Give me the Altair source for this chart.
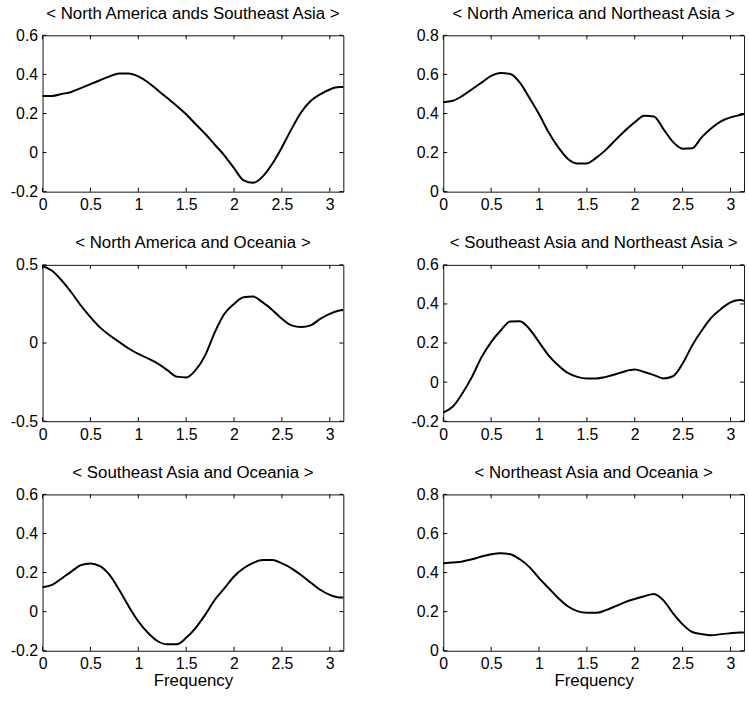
import altair as alt
import pandas as pd

# Frequency grid (radians) shared by all panels
X = [0.0, 0.1, 0.2, 0.3, 0.4, 0.5, 0.6, 0.7, 0.8, 0.9,
     1.0, 1.1, 1.2, 1.3, 1.4, 1.5, 1.6, 1.7, 1.8, 1.9,
     2.0, 2.1, 2.2, 2.3, 2.4, 2.5, 2.6, 2.7, 2.8, 2.9,
     3.0, 3.1, 3.14]

TITLES = [
    "< North America ands Southeast Asia >",
    "< North America and Northeast Asia >",
    "< North America and Oceania >",
    "< Southeast Asia and Northeast Asia >",
    "< Southeast Asia and Oceania >",
    "< Northeast Asia and Oceania >",
]

NA_SEA = [0.29, 0.29, 0.30, 0.31, 0.33, 0.35, 0.37, 0.39, 0.405, 0.405,
          0.39, 0.36, 0.32, 0.28, 0.24, 0.196, 0.145, 0.095, 0.04, -0.015,
          -0.08, -0.142, -0.155, -0.122, -0.057, 0.027, 0.12, 0.205, 0.264, 0.298,
          0.323, 0.335, 0.335]
NA_NEA = [0.458, 0.465, 0.49, 0.524, 0.558, 0.592, 0.607, 0.602, 0.558, 0.48,
          0.397, 0.304, 0.228, 0.169, 0.144, 0.144, 0.174, 0.215, 0.265, 0.313,
          0.355, 0.388, 0.385, 0.32, 0.254, 0.22, 0.222, 0.279, 0.325, 0.36,
          0.38, 0.392, 0.397]
NA_OC = [0.493, 0.462, 0.40, 0.325, 0.24, 0.166, 0.10, 0.05, 0.007, -0.035,
         -0.07, -0.098, -0.13, -0.172, -0.215, -0.22, -0.172, -0.077, 0.07, 0.187,
         0.25, 0.293, 0.297, 0.26, 0.212, 0.155, 0.113, 0.103, 0.113, 0.155,
         0.187, 0.208, 0.212]
SEA_NEA = [-0.156, -0.125, -0.057, 0.027, 0.128, 0.205, 0.264, 0.31, 0.312, 0.272,
           0.205, 0.137, 0.086, 0.047, 0.027, 0.019, 0.019, 0.027, 0.04, 0.056,
           0.064, 0.052, 0.036, 0.019, 0.03, 0.095, 0.188, 0.264, 0.33, 0.374,
           0.408, 0.42, 0.416]
SEA_OC = [0.125, 0.137, 0.17, 0.205, 0.238, 0.247, 0.233, 0.188, 0.112, 0.027,
          -0.049, -0.108, -0.15, -0.167, -0.167, -0.134, -0.083, -0.015, 0.061, 0.12,
          0.18, 0.222, 0.25, 0.264, 0.264, 0.247, 0.222, 0.188, 0.149, 0.112,
          0.086, 0.073, 0.073]
NEA_OC = [0.448, 0.452, 0.457, 0.468, 0.482, 0.494, 0.499, 0.494, 0.468, 0.428,
          0.372, 0.321, 0.27, 0.228, 0.203, 0.194, 0.194, 0.208, 0.228, 0.249,
          0.265, 0.279, 0.291, 0.258, 0.191, 0.135, 0.096, 0.085, 0.079, 0.085,
          0.09, 0.093, 0.093]

SERIES = [NA_SEA, NA_NEA, NA_OC, SEA_NEA, SEA_OC, NEA_OC]

X_TICKS = [0, 0.5, 1, 1.5, 2, 2.5, 3]
X_DOMAIN = [0, 3.14159]
Y_TICKS = [
    [-0.2, 0, 0.2, 0.4, 0.6],
    [0, 0.2, 0.4, 0.6, 0.8],
    [-0.5, 0, 0.5],
    [-0.2, 0, 0.2, 0.4, 0.6],
    [-0.2, 0, 0.2, 0.4, 0.6],
    [0, 0.2, 0.4, 0.6, 0.8],
]

W, H = 304, 158
FONT = "Liberation Sans"
TL = 4  # inward tick length


def panel(i):
    yt = Y_TICKS[i]
    bottom = i >= 4
    xscale = alt.Scale(domain=X_DOMAIN, nice=False, zero=False)
    yscale = alt.Scale(domain=[yt[0], yt[-1]], nice=False, zero=False)
    xaxis = alt.Axis(values=X_TICKS, ticks=False, tickSize=0, domain=False, grid=False,
                     labelFlush=False, labelOverlap=False, labelPadding=5,
                     labelExpr="'' + datum.value", minExtent=22, maxExtent=22,
                     title="Frequency" if bottom else "", titlePadding=0)
    yaxis = alt.Axis(values=yt, ticks=False, tickSize=0, domain=False, grid=False,
                     labelOverlap=False, labelPadding=5, labelExpr="'' + datum.value",
                     minExtent=35, maxExtent=35, title="")
    xenc = alt.X("x:Q", scale=xscale, axis=xaxis)
    yenc = alt.Y("y:Q", scale=yscale, axis=yaxis)

    df = pd.DataFrame({"x": X, "y": SERIES[i]})
    line = alt.Chart(df).mark_line(color="black", strokeWidth=2,
                                   interpolate="monotone").encode(x=xenc, y=yenc)
    xt = pd.DataFrame({"x": X_TICKS})
    ytd = pd.DataFrame({"y": yt})
    xb = alt.Chart(xt).mark_rule(color="black").encode(
        x=xenc, y=alt.value(H), y2=alt.value(H - TL))
    xtop = alt.Chart(xt).mark_rule(color="black").encode(
        x=xenc, y=alt.value(0), y2=alt.value(TL))
    yl = alt.Chart(ytd).mark_rule(color="black").encode(
        y=yenc, x=alt.value(0), x2=alt.value(TL))
    yr = alt.Chart(ytd).mark_rule(color="black").encode(
        y=yenc, x=alt.value(W), x2=alt.value(W - TL))
    return alt.layer(xb, xtop, yl, yr, line).properties(
        width=W, height=H,
        title=alt.TitleParams(TITLES[i], anchor="middle", frame="group",
                              fontSize=17, font=FONT, fontWeight="normal",
                              color="black", offset=5),
    )


rows = [alt.hconcat(panel(2 * r), panel(2 * r + 1), spacing=60) for r in range(3)]
chart = alt.vconcat(*rows, spacing=19).properties(
    padding={"left": 7, "top": 0, "right": 0, "bottom": 0},
    background="white",
).configure_view(stroke="#111", strokeWidth=1).configure_axis(
    labelFont=FONT, labelFontSize=16, labelColor="black",
    titleFont=FONT, titleFontSize=17, titleColor="black", titleFontWeight="normal",
)

chart.save("out.html", embed_options={"renderer": "svg", "actions": False})
